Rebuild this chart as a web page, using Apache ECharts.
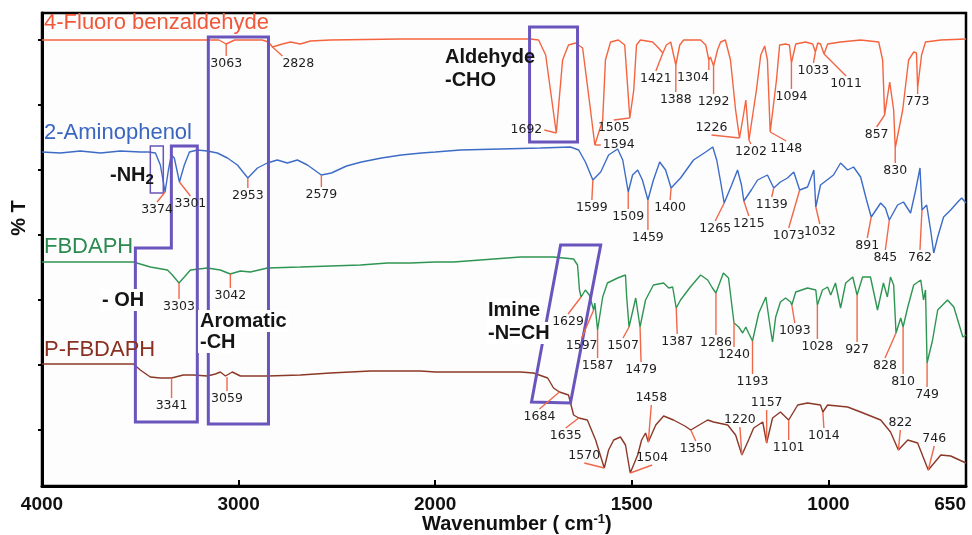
<!DOCTYPE html>
<html>
<head>
<meta charset="utf-8">
<title>FTIR spectra</title>
<script src="https://cdn.jsdelivr.net/npm/echarts@6.0.0/dist/echarts.min.js"></script>
<style>
	html, body { margin: 0; padding: 0; background: #fff; }
	#chart { width: 972px; height: 535px; }
</style>
</head>
<body>
<div id="chart"></div>
<script>
/* spectra: [wavenumber, %T (stacked, arbitrary offset)] */
var fluoroBenz = [
	[4000, 89.2], [3600, 89.2], [3200, 89.2], [3100, 89.2], [3063, 88.4], [3020, 89.2], [2880, 89.2], [2848, 88.8],
	[2828, 87.8], [2777, 88.4], [2736, 88.8], [2686, 88.4], [2635, 89.0], [2533, 89.2], [2177, 89.4], [2000, 89.4],
	[1834, 89.4], [1758, 89.4], [1737, 89.2], [1719, 86.2], [1692, 70.6], [1676, 85.2], [1661, 88.2], [1643, 88.6],
	[1625, 87.6], [1605, 75.2], [1594, 68.2], [1574, 73.2], [1567, 85.2], [1554, 88.8], [1534, 89.2], [1518, 88.2],
	[1505, 73.6], [1495, 79.2], [1488, 88.2], [1478, 89.2], [1447, 88.8], [1432, 87.6], [1421, 86.6], [1412, 88.2],
	[1401, 88.8], [1388, 84.2], [1378, 88.2], [1368, 89.2], [1325, 89.2], [1312, 88.2], [1304, 85.2], [1300, 85.8],
	[1292, 84.0], [1282, 87.2], [1274, 88.8], [1262, 89.2], [1249, 85.2], [1236, 75.2], [1226, 69.6], [1216, 74.2],
	[1210, 77.2], [1202, 69.2], [1183, 79.2], [1172, 86.2], [1162, 88.0], [1155, 85.2], [1148, 70.8], [1132, 81.2],
	[1124, 88.2], [1109, 88.4], [1099, 88.2], [1094, 84.6], [1083, 88.4], [1058, 88.8], [1040, 88.4], [1033, 86.8],
	[1027, 88.6], [1020, 88.4], [1011, 86.4], [1002, 88.4], [969, 88.8], [918, 89.2], [872, 88.8], [862, 85.2],
	[857, 74.2], [844, 80.8], [834, 75.2], [830, 67.6], [811, 75.2], [796, 85.2], [783, 86.8], [776, 86.6],
	[773, 79.6], [763, 86.2], [753, 88.8], [714, 89.2], [650, 89.4]
];
var aminophenol = [
	[4000, 66.8], [3907, 66.6], [3805, 67.0], [3703, 66.6], [3601, 67.0], [3500, 66.8], [3459, 66.8], [3423, 66.6],
	[3398, 64.2], [3374, 58.8], [3357, 63.2], [3342, 66.2], [3327, 65.6], [3301, 60.8], [3276, 64.2], [3250, 66.8],
	[3210, 67.2], [3159, 67.0], [3108, 66.6], [3057, 65.6], [3006, 64.2], [2953, 61.6], [2904, 63.6], [2854, 64.6],
	[2803, 65.2], [2752, 64.6], [2701, 65.2], [2650, 64.2], [2579, 62.2], [2528, 62.6], [2451, 64.0], [2375, 64.8],
	[2273, 65.6], [2172, 66.2], [2070, 66.6], [2000, 66.8],
	[1936, 67.2], [1834, 67.4], [1732, 67.6], [1656, 67.8], [1635, 67.2], [1618, 64.8], [1599, 61.2], [1579, 62.8],
	[1559, 66.2], [1536, 67.4], [1523, 65.2], [1509, 58.8], [1498, 62.2], [1485, 63.2], [1473, 61.2], [1459, 57.2],
	[1445, 61.2], [1429, 64.8], [1414, 63.2], [1400, 59.6], [1376, 61.6], [1343, 65.2], [1312, 66.8], [1294, 67.8],
	[1284, 65.2], [1274, 60.8], [1265, 56.6], [1246, 60.2], [1231, 63.2], [1221, 60.2], [1215, 57.0], [1196, 59.2],
	[1180, 61.2], [1155, 62.2], [1139, 59.6], [1122, 60.8], [1104, 61.6], [1088, 62.8], [1073, 59.2], [1053, 59.8],
	[1037, 63.2], [1032, 55.8], [1020, 60.2], [987, 62.2], [969, 64.6], [951, 63.2], [936, 63.8], [918, 61.8],
	[903, 57.2], [891, 53.8], [867, 56.6], [855, 55.6], [845, 53.2], [824, 56.2], [809, 56.8], [791, 54.6],
	[778, 59.2], [767, 63.6], [762, 55.2], [750, 56.2], [740, 51.2], [732, 46.6], [722, 49.8], [707, 53.8],
	[689, 55.2], [671, 56.8], [661, 57.6], [650, 56.6]
];
var fbdaph = [
	[4000, 44.8], [3703, 44.8], [3535, 44.8], [3449, 43.8], [3362, 43.2], [3337, 42.2], [3303, 40.6], [3276, 41.8],
	[3245, 43.2], [3159, 43.6], [3093, 43.2], [3042, 42.4], [2991, 43.0], [2940, 42.8], [2853, 43.6], [2686, 43.8],
	[2533, 44.0], [2380, 44.2], [2243, 44.6], [2126, 44.6], [2000, 44.8],
	[1953, 44.8], [1885, 45.2], [1783, 45.8], [1699, 45.8], [1648, 45.4], [1638, 44.2], [1633, 39.2], [1629, 37.8],
	[1618, 39.2], [1608, 38.2], [1597, 35.2], [1594, 36.6], [1587, 31.2], [1574, 37.8], [1562, 40.6], [1536, 41.6],
	[1516, 42.2], [1513, 37.8], [1507, 31.8], [1490, 37.6], [1485, 37.2], [1479, 31.8], [1465, 37.2], [1445, 40.2],
	[1419, 40.6], [1406, 39.6], [1396, 39.8], [1387, 35.6], [1376, 37.2], [1351, 39.8], [1325, 42.2], [1307, 41.2],
	[1295, 39.6], [1286, 38.6], [1267, 42.6], [1254, 41.6], [1240, 32.6], [1228, 31.8], [1218, 30.6], [1210, 31.8],
	[1203, 30.6], [1193, 29.0], [1177, 34.6], [1159, 37.8], [1154, 38.2], [1147, 31.2], [1142, 28.8], [1134, 33.8],
	[1122, 36.8], [1109, 37.6], [1096, 36.8], [1093, 36.2], [1083, 38.8], [1053, 39.6], [1032, 39.2], [1028, 36.2],
	[1015, 39.2], [1002, 39.8], [994, 38.2], [982, 40.6], [969, 35.6], [956, 40.6], [938, 41.8], [927, 38.2],
	[913, 41.8], [893, 41.8], [875, 35.2], [860, 40.6], [850, 37.8], [842, 41.8], [834, 40.2], [828, 30.6],
	[816, 33.6], [810, 31.8], [798, 35.8], [783, 40.2], [765, 41.2], [758, 37.2], [753, 39.2], [749, 24.6],
	[735, 29.2], [722, 35.2], [697, 37.2], [681, 35.8], [658, 29.8], [650, 30.2]
];
var pFbdaph = [
	[4000, 24.4], [3754, 24.4], [3535, 24.4], [3500, 23.2], [3449, 21.8], [3398, 21.6], [3341, 21.6], [3281, 22.2],
	[3230, 22.2], [3159, 22.0], [3118, 22.4], [3093, 22.8], [3067, 22.0], [3059, 21.8], [3032, 22.8], [2991, 22.0],
	[2853, 22.0], [2686, 22.2], [2533, 22.6], [2329, 23.0], [2075, 23.0], [2000, 22.8],
	[1910, 22.8], [1783, 22.8], [1750, 22.6], [1714, 21.6], [1699, 19.6], [1684, 18.8], [1661, 18.2], [1648, 14.2],
	[1635, 13.6], [1613, 13.2], [1592, 9.2], [1570, 3.6], [1559, 7.2], [1546, 9.2], [1529, 9.8], [1516, 8.2],
	[1504, 2.6], [1485, 6.2], [1475, 9.2], [1465, 10.6], [1458, 8.8], [1439, 12.2], [1419, 14.0], [1394, 13.2],
	[1365, 12.0], [1350, 11.2], [1307, 13.2], [1292, 12.8], [1256, 12.2], [1236, 10.2], [1220, 6.2], [1203, 9.2],
	[1190, 11.6], [1167, 12.8], [1157, 8.6], [1142, 13.6], [1122, 14.8], [1101, 13.2], [1078, 16.2], [1053, 16.6],
	[1020, 16.2], [1014, 14.8], [1002, 16.2], [951, 15.8], [918, 14.8], [867, 13.2], [842, 10.8], [822, 7.2],
	[798, 9.2], [773, 8.6], [746, 3.2], [714, 6.2], [689, 6.0], [650, 4.6]
];

/* labelled peaks */
var fluoroPeaks = [3063, 2828, 1692, 1594, 1505, 1421, 1388, 1304, 1292, 1226, 1202, 1148, 1094, 1033, 1011, 857, 830, 773];
var aminoPeaks = [3374, 3301, 2953, 2579, 1599, 1509, 1459, 1400, 1265, 1215, 1139, 1073, 1032, 891, 845, 762];
var fbdaphPeaks = [3303, 3042, 1629, 1597, 1587, 1507, 1479, 1387, 1286, 1240, 1193, 1093, 1028, 927, 828, 810, 749];
var pFbdaphPeaks = [3341, 3059, 1684, 1635, 1570, 1504, 1458, 1350, 1220, 1157, 1101, 1014, 822, 746];

/* axis ticks */
var xTickWn = [4000, 3000, 2000, 1500, 1000, 650];
var yTickVals = [11.2, 24.2, 37.2, 50.2, 63.2, 76.2, 89.2];

/* label placement: leader offset (px) and where the text sits */
var fluoroLabelPos = [[0, 12, 'b'], [10, 9, 'br'], [-12, -3, 'l'], [6, 0, 'r'], [-16, 2, 'b'], [-7, 18, 'b'], [0, 27, 'b'],
	[0, 10, 'bl'], [0, 28, 'b'], [-28, -3, 't'], [2, 4, 'b'], [16, 9, 'b'], [0, 26, 'b'], [-2, 11, 'b'], [22, 22, 'b'],
	[-8, 12, 'b'], [0, 15, 'b'], [0, 6, 'b']];
var aminoLabelPos = [[-8, 10, 'b'], [11, 14, 'b'], [0, 10, 'b'], [0, 12, 'b'], [-1, 20, 'b'], [0, 17, 'b'], [0, 30, 'b'],
	[-1, 12, 'b'], [-9, 18, 'b'], [5, 15, 'b'], [-2, 9, 'b'], [-11, 38, 'b'], [4, 17, 'b'], [-4, 21, 'b'], [-4, 30, 'b'],
	[-2, 40, 'b']];
var fbdaphLabelPos = [[0, 16, 'b'], [0, 14, 'b'], [-13, 17, 'b'], [-12, 28, 'b'], [0, 28, 'b'], [-6, 11, 'b'], [1, 35, 'b'],
	[1, 26, 'b'], [0, 42, 'b'], [0, 24, 'b'], [0, 33, 'b'], [3, 18, 'b'], [0, 34, 'b'], [0, 47, 'b'], [-11, 25, 'b'],
	[0, 47, 'b'], [0, 24, 'b']];
var pFbdaphLabelPos = [[0, 20, 'b'], [0, 14, 'b'], [-20, 17, 'b'], [-13, 10, 'b'], [-20, -5, 't'], [22, -8, 't'],
	[3, -37, 't'], [5, 11, 'b'], [-2, -28, 't'], [0, -33, 't'], [0, 20, 'b'], [1, 16, 'b'], [2, -20, 't'], [6, -24, 't']];

/* highlight boxes, corners in [wavenumber, %T] */
var boxes = [
	[[3342, 68], [3210, 68], [3210, 12.8], [3525, 12.8], [3525, 47.6], [3342, 47.6]],
	[[3449, 58.6], [3449, 68], [3383, 68], [3383, 58.6]],
	[[3154, 89.8], [2848, 89.8], [2848, 12.4], [3154, 12.4]],
	[[1760, 91.8], [1638, 91.8], [1638, 68.8], [1760, 68.8]],
	[[1681, 48.2], [1579, 48.2], [1656, 16.6], [1755, 16.8]]
];
var boxWidths = [3, 1.5, 3, 3, 3];

/* x axis: 4000-2000 at half scale, 2000-650 at full scale */
function toU(w) {
	return w >= 2000 ? (4000 - w) / 2 : 1000 + (2000 - w);
}
function fromU(u) {
	return u <= 1000 ? 4000 - 2 * u : 2000 - (u - 1000);
}
function toXY(spec) {
	return spec.map(function(p) { return [toU(p[0]), p[1]]; });
}
function valueAt(spec, w) {
	for(var i = 0; i < spec.length - 1; i++) {
		var a = spec[i], b = spec[i + 1];
		if(a[0] >= w && b[0] <= w) {
			if(a[0] == b[0]) return a[1];
			return a[1] + (b[1] - a[1]) * (a[0] - w) / (a[0] - b[0]);
		}
	}
	return spec[spec.length - 1][1];
}

var noteData = [];
var noteLayout = [];
[
	[fluoroBenz, fluoroPeaks, fluoroLabelPos],
	[aminophenol, aminoPeaks, aminoLabelPos],
	[fbdaph, fbdaphPeaks, fbdaphLabelPos],
	[pFbdaph, pFbdaphPeaks, pFbdaphLabelPos]
].forEach(function(set) {
	set[1].forEach(function(w, i) {
		noteData.push([toU(w), valueAt(set[0], w)]);
		noteLayout.push({ text: String(w), lay: set[2][i] });
	});
});

var leaderColor = '#f0684a';
var peakFont = '12.5px "DejaVu Sans", sans-serif';

function renderNote(params, api) {
	var p = api.coord([api.value(0), api.value(1)]);
	var note = noteLayout[params.dataIndex];
	var lay = note.lay;
	var bx = p[0] + lay[0], by = p[1] + lay[1];
	var tx = bx, ty = by + 1, align = 'center', va = 'top';
	if(lay[2] == 'l') { tx = bx - 2; ty = by; align = 'right'; va = 'middle'; }
	else if(lay[2] == 'r') { tx = bx + 2; ty = by; align = 'left'; va = 'middle'; }
	else if(lay[2] == 'bl') { align = 'right'; }
	else if(lay[2] == 'br') { align = 'left'; }
	else if(lay[2] == 't') { ty = by - 1; va = 'bottom'; }
	return {
		type: 'group',
		children: [{
			type: 'line',
			shape: { x1: p[0], y1: p[1], x2: bx, y2: by },
			style: { stroke: leaderColor, lineWidth: 1.4 }
		}, {
			type: 'text',
			style: { text: note.text, x: tx, y: ty, align: align, verticalAlign: va, font: peakFont, fill: '#1e1e1e' }
		}]
	};
}

function renderBox(params, api) {
	var idx = api.value(2);
	var pts = boxes[idx].map(function(p) { return api.coord([toU(p[0]), p[1]]); });
	return {
		type: 'polygon',
		shape: { points: pts },
		style: { fill: 'none', stroke: '#6a55bd', lineWidth: boxWidths[idx] }
	};
}

function spectrum(name, data, color) {
	return {
		name: name,
		type: 'line',
		data: toXY(data),
		showSymbol: false,
		symbol: 'none',
		smooth: false,
		silent: true,
		z: 3,
		lineStyle: { color: color, width: 1.4 }
	};
}

var titleFont = '22px "Liberation Sans", Arial, sans-serif';
var boldFont = 'bold 20px "Liberation Sans", Arial, sans-serif';

function txt(x, y, text, font, color, bg) {
	var el = {
		type: 'text', x: x, y: y, z: 100, silent: true,
		style: { text: text, font: font, fill: color, align: 'left', verticalAlign: 'middle' }
	};
	if(bg) {
		el.style.backgroundColor = '#ffffff';
		el.style.padding = [1, 2];
	}
	return el;
}

var chart = echarts.init(document.getElementById('chart'));
chart.setOption({
	animation: false,
	backgroundColor: '#ffffff',
	grid: {
		left: 42, right: 6, top: 13, bottom: 49, containLabel: false, outerBoundsMode: 'none',
		show: true, borderColor: '#000', borderWidth: 2.5, backgroundColor: '#fdfdfe'
	},
	xAxis: {
		type: 'value', min: 0, max: 2350,
		axisLine: { lineStyle: { color: '#000', width: 3 } },
		axisTick: { inside: true, length: 6, customValues: xTickWn.map(toU), lineStyle: { color: '#000', width: 2 } },
		axisLabel: {
			customValues: xTickWn.map(toU),
			formatter: function(v) { return String(Math.round(fromU(v))); },
			alignMaxLabel: 'right',
			color: '#111', fontSize: 19, fontWeight: 'bold', fontFamily: 'Liberation Sans', margin: 9
		},
		splitLine: { show: false }
	},
	yAxis: {
		type: 'value', min: 0, max: 94.6,
		axisLine: { show: true, lineStyle: { color: '#000', width: 3 } },
		axisTick: { show: true, length: 4, customValues: yTickVals, lineStyle: { color: '#000', width: 2 } },
		axisLabel: { show: false },
		splitLine: { show: false }
	},
	graphic: [
		txt(44, 23, '4-Fluoro benzaldehyde', titleFont, '#f0583a'),
		txt(44, 133, '2-Aminophenol', titleFont, '#3a66c0'),
		txt(44, 247, 'FBDAPH', titleFont, '#2b8a4f'),
		txt(44, 350, 'P-FBDAPH', titleFont, '#8a3020'),
		txt(445, 57, 'Aldehyde', boldFont, '#151515'),
		txt(445, 80, '-CHO', boldFont, '#151515'),
		{
			type: 'text', x: 110, y: 175, z: 100, silent: true,
			style: {
				text: '{a|-NH}{s|2}', align: 'left', verticalAlign: 'middle',
				rich: {
					a: { font: boldFont, fill: '#151515' },
					s: { font: 'bold 15px "Liberation Sans", Arial, sans-serif', fill: '#151515', padding: [10, 0, 0, 0] }
				}
			}
		},
		txt(100, 300, '- OH', boldFont, '#151515', true),
		txt(198, 321, 'Aromatic', boldFont, '#151515', true),
		txt(198, 342, '-CH', boldFont, '#151515', true),
		txt(486, 310, 'Imine', boldFont, '#151515', true),
		txt(486, 333, '-N=CH', boldFont, '#151515', true),
		{
			type: 'text', x: 19, y: 218, z: 100, silent: true, rotation: Math.PI / 2,
			style: { text: '% T', font: boldFont, fill: '#111', align: 'center', verticalAlign: 'middle' }
		},
		{
			type: 'text', x: 422, y: 524, z: 100, silent: true,
			style: {
				text: '{a|Wavenumber ( cm}{s|-1}{a|)}', align: 'left', verticalAlign: 'middle',
				rich: {
					a: { font: boldFont, fill: '#111' },
					s: { font: 'bold 13px "Liberation Sans", Arial, sans-serif', fill: '#111', padding: [0, 0, 10, 0] }
				}
			}
		}
	],
	series: [
		{
			type: 'custom',
			renderItem: renderBox,
			data: boxes.map(function(b, i) { return [toU(b[0][0]), b[0][1], i]; }),
			encode: { x: 0, y: 1 },
			clip: false,
			silent: true,
			z: 4
		},
		spectrum('4-Fluoro benzaldehyde', fluoroBenz, '#f4643f'),
		spectrum('2-Aminophenol', aminophenol, '#3d6cc6'),
		spectrum('FBDAPH', fbdaph, '#2f9552'),
		spectrum('P-FBDAPH', pFbdaph, '#8b3826'),
		{
			type: 'custom',
			renderItem: renderNote,
			data: noteData,
			encode: { x: 0, y: 1 },
			clip: false,
			silent: true,
			z: 5
		}
	]
});
</script>
</body>
</html>
